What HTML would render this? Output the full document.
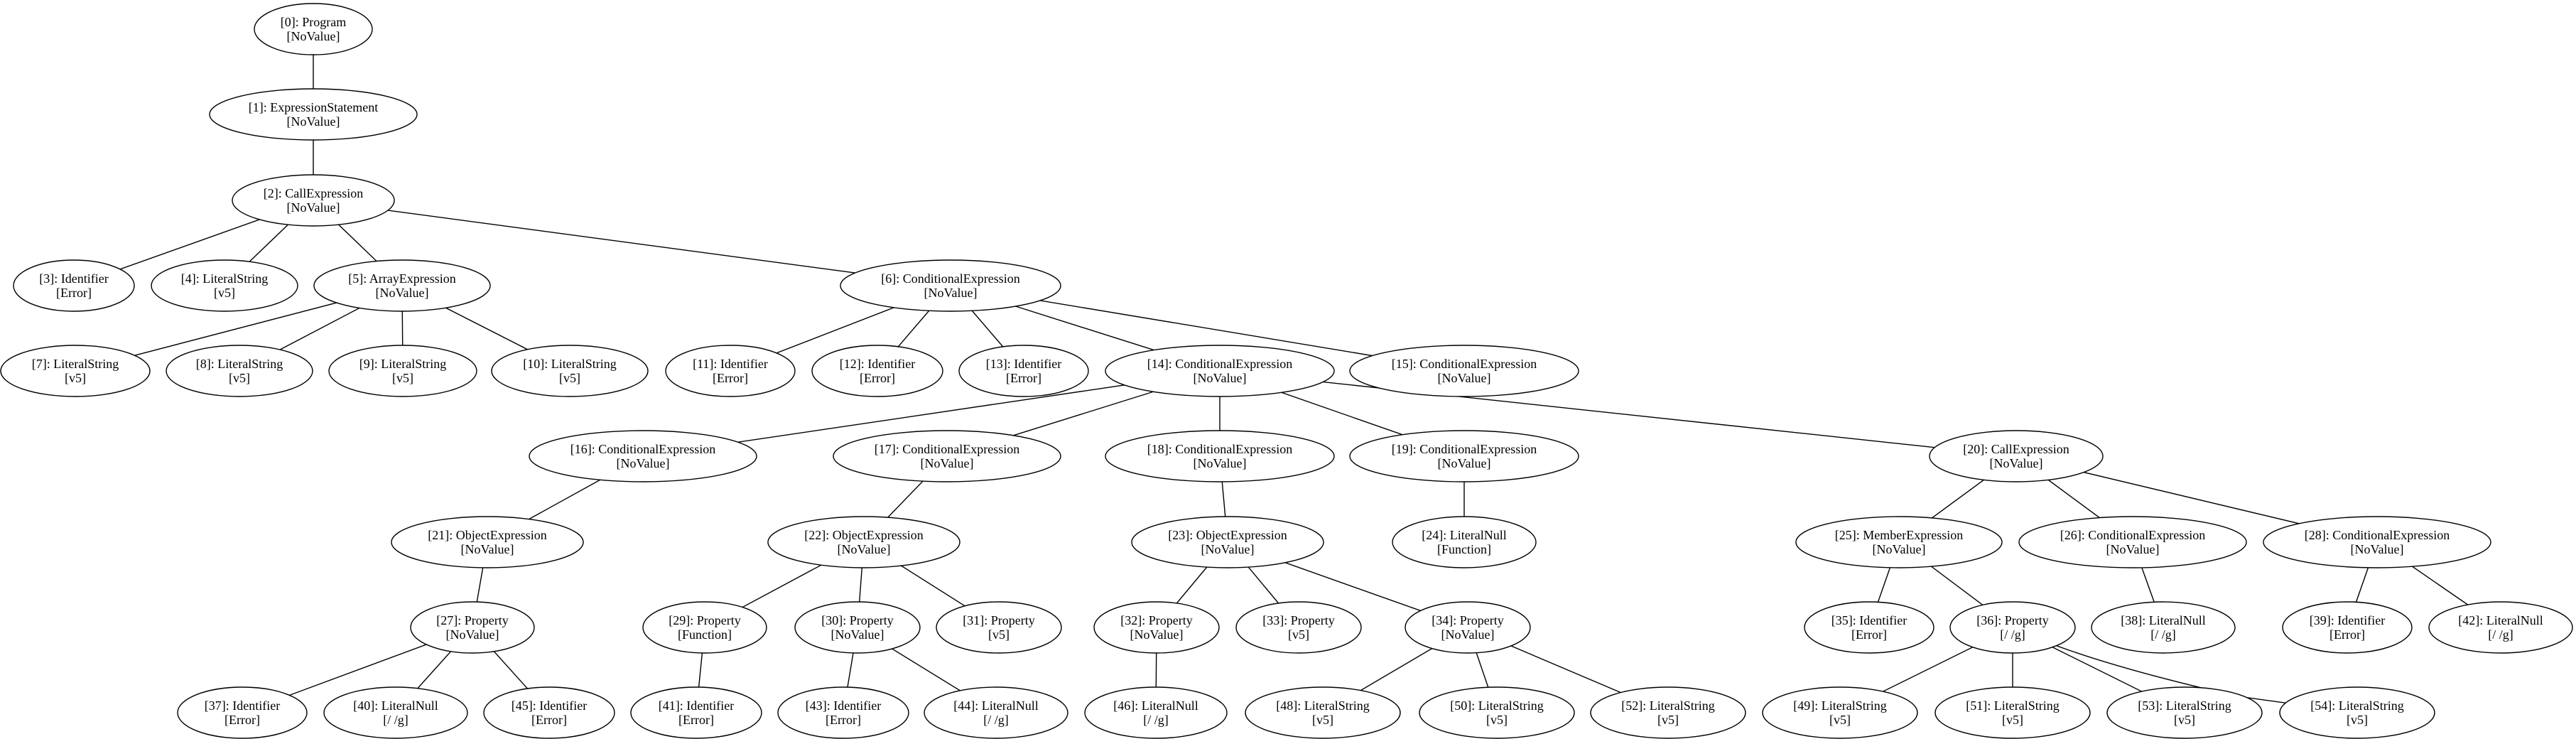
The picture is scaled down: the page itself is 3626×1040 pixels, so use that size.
<!DOCTYPE html>
<html><head><meta charset="utf-8"><style>
html,body{margin:0;padding:0;background:#fff;}
svg{display:block;}
text{font-family:"Liberation Serif","Times New Roman",serif;font-size:18px;fill:#000;text-anchor:middle;}
ellipse{fill:#fff;stroke:#000;stroke-width:1.4;}
line,path{stroke:#000;stroke-width:1.4;fill:none;}
</style></head><body>
<svg width="3626" height="1040" viewBox="0 0 3626 1040" xmlns="http://www.w3.org/2000/svg">
<g>
<line x1="441" y1="41" x2="441" y2="161"/>
<line x1="441" y1="161" x2="441" y2="282"/>
<line x1="441" y1="282" x2="104" y2="402"/>
<line x1="441" y1="282" x2="316" y2="402"/>
<line x1="441" y1="282" x2="566" y2="402"/>
<line x1="441" y1="282" x2="1338" y2="402"/>
<line x1="566" y1="402" x2="106" y2="522"/>
<line x1="566" y1="402" x2="337" y2="522"/>
<line x1="566" y1="402" x2="567" y2="522"/>
<line x1="566" y1="402" x2="802" y2="522"/>
<line x1="1338" y1="402" x2="1028" y2="522"/>
<line x1="1338" y1="402" x2="1235" y2="522"/>
<line x1="1338" y1="402" x2="1441" y2="522"/>
<line x1="1338" y1="402" x2="1717" y2="522"/>
<line x1="1338" y1="402" x2="2061" y2="522"/>
<line x1="1717" y1="522" x2="905" y2="642"/>
<line x1="1717" y1="522" x2="1333" y2="642"/>
<line x1="1717" y1="522" x2="1717" y2="642"/>
<line x1="1717" y1="522" x2="2061" y2="642"/>
<line x1="1717" y1="522" x2="2838" y2="642"/>
<line x1="905" y1="642" x2="686" y2="763"/>
<line x1="1333" y1="642" x2="1216" y2="763"/>
<line x1="1717" y1="642" x2="1728" y2="763"/>
<line x1="2061" y1="642" x2="2061" y2="763"/>
<line x1="2838" y1="642" x2="2673" y2="763"/>
<line x1="2838" y1="642" x2="3002" y2="763"/>
<line x1="2838" y1="642" x2="3346" y2="763"/>
<line x1="686" y1="763" x2="665" y2="883"/>
<line x1="1216" y1="763" x2="992" y2="883"/>
<line x1="1216" y1="763" x2="1207" y2="883"/>
<line x1="1216" y1="763" x2="1406" y2="883"/>
<line x1="1728" y1="763" x2="1628" y2="883"/>
<line x1="1728" y1="763" x2="1828" y2="883"/>
<line x1="1728" y1="763" x2="2066" y2="883"/>
<line x1="2673" y1="763" x2="2631" y2="883"/>
<line x1="2673" y1="763" x2="2833" y2="883"/>
<line x1="3002" y1="763" x2="3045" y2="883"/>
<line x1="3346" y1="763" x2="3304" y2="883"/>
<line x1="3346" y1="763" x2="3520" y2="883"/>
<line x1="665" y1="883" x2="341" y2="1003"/>
<line x1="665" y1="883" x2="557" y2="1003"/>
<line x1="665" y1="883" x2="773" y2="1003"/>
<line x1="992" y1="883" x2="980" y2="1003"/>
<line x1="1207" y1="883" x2="1187" y2="1003"/>
<line x1="1207" y1="883" x2="1402" y2="1003"/>
<line x1="1628" y1="883" x2="1627" y2="1003"/>
<line x1="2066" y1="883" x2="1862" y2="1003"/>
<line x1="2066" y1="883" x2="2107" y2="1003"/>
<line x1="2066" y1="883" x2="2348" y2="1003"/>
<line x1="2833" y1="883" x2="2590" y2="1003"/>
<line x1="2833" y1="883" x2="2833" y2="1003"/>
<line x1="2833" y1="883" x2="3075" y2="1003"/>
<path d="M2833,883 Q2930,930 3150,980 L3318,1003"/>
</g>
<g>
<ellipse cx="441" cy="41" rx="83" ry="36"/><text x="441" y="37">[0]: Program</text><text x="441" y="57">[NoValue]</text>
<ellipse cx="441" cy="161" rx="146" ry="36"/><text x="441" y="157">[1]: ExpressionStatement</text><text x="441" y="177">[NoValue]</text>
<ellipse cx="441" cy="282" rx="114" ry="36"/><text x="441" y="278">[2]: CallExpression</text><text x="441" y="298">[NoValue]</text>

<ellipse cx="104" cy="402" rx="85" ry="36"/><text x="104" y="398">[3]: Identifier</text><text x="104" y="418">[Error]</text>
<ellipse cx="316" cy="402" rx="103" ry="36"/><text x="316" y="398">[4]: LiteralString</text><text x="316" y="418">[v5]</text>
<ellipse cx="566" cy="402" rx="124" ry="36"/><text x="566" y="398">[5]: ArrayExpression</text><text x="566" y="418">[NoValue]</text>
<ellipse cx="1338" cy="402" rx="155" ry="36"/><text x="1338" y="398">[6]: ConditionalExpression</text><text x="1338" y="418">[NoValue]</text>

<ellipse cx="106" cy="522" rx="105" ry="36"/><text x="106" y="518">[7]: LiteralString</text><text x="106" y="538">[v5]</text>
<ellipse cx="337" cy="522" rx="103" ry="36"/><text x="337" y="518">[8]: LiteralString</text><text x="337" y="538">[v5]</text>
<ellipse cx="567" cy="522" rx="104" ry="36"/><text x="567" y="518">[9]: LiteralString</text><text x="567" y="538">[v5]</text>
<ellipse cx="802" cy="522" rx="110" ry="36"/><text x="802" y="518">[10]: LiteralString</text><text x="802" y="538">[v5]</text>
<ellipse cx="1028" cy="522" rx="91" ry="36"/><text x="1028" y="518">[11]: Identifier</text><text x="1028" y="538">[Error]</text>
<ellipse cx="1235" cy="522" rx="92" ry="36"/><text x="1235" y="518">[12]: Identifier</text><text x="1235" y="538">[Error]</text>
<ellipse cx="1441" cy="522" rx="91" ry="36"/><text x="1441" y="518">[13]: Identifier</text><text x="1441" y="538">[Error]</text>
<ellipse cx="1717" cy="522" rx="161" ry="36"/><text x="1717" y="518">[14]: ConditionalExpression</text><text x="1717" y="538">[NoValue]</text>
<ellipse cx="2061" cy="522" rx="161" ry="36"/><text x="2061" y="518">[15]: ConditionalExpression</text><text x="2061" y="538">[NoValue]</text>

<ellipse cx="905" cy="642" rx="160" ry="36"/><text x="905" y="638">[16]: ConditionalExpression</text><text x="905" y="658">[NoValue]</text>
<ellipse cx="1333" cy="642" rx="160" ry="36"/><text x="1333" y="638">[17]: ConditionalExpression</text><text x="1333" y="658">[NoValue]</text>
<ellipse cx="1717" cy="642" rx="161" ry="36"/><text x="1717" y="638">[18]: ConditionalExpression</text><text x="1717" y="658">[NoValue]</text>
<ellipse cx="2061" cy="642" rx="161" ry="36"/><text x="2061" y="638">[19]: ConditionalExpression</text><text x="2061" y="658">[NoValue]</text>
<ellipse cx="2838" cy="642" rx="122" ry="36"/><text x="2838" y="638">[20]: CallExpression</text><text x="2838" y="658">[NoValue]</text>

<ellipse cx="686" cy="763" rx="135" ry="36"/><text x="686" y="759">[21]: ObjectExpression</text><text x="686" y="779">[NoValue]</text>
<ellipse cx="1216" cy="763" rx="135" ry="36"/><text x="1216" y="759">[22]: ObjectExpression</text><text x="1216" y="779">[NoValue]</text>
<ellipse cx="1728" cy="763" rx="135" ry="36"/><text x="1728" y="759">[23]: ObjectExpression</text><text x="1728" y="779">[NoValue]</text>
<ellipse cx="2061" cy="763" rx="101" ry="36"/><text x="2061" y="759">[24]: LiteralNull</text><text x="2061" y="779">[Function]</text>
<ellipse cx="2673" cy="763" rx="145" ry="36"/><text x="2673" y="759">[25]: MemberExpression</text><text x="2673" y="779">[NoValue]</text>
<ellipse cx="3002" cy="763" rx="160" ry="36"/><text x="3002" y="759">[26]: ConditionalExpression</text><text x="3002" y="779">[NoValue]</text>
<ellipse cx="3346" cy="763" rx="160" ry="36"/><text x="3346" y="759">[28]: ConditionalExpression</text><text x="3346" y="779">[NoValue]</text>

<ellipse cx="665" cy="883" rx="87" ry="36"/><text x="665" y="879">[27]: Property</text><text x="665" y="899">[NoValue]</text>
<ellipse cx="992" cy="883" rx="87" ry="36"/><text x="992" y="879">[29]: Property</text><text x="992" y="899">[Function]</text>
<ellipse cx="1207" cy="883" rx="88" ry="36"/><text x="1207" y="879">[30]: Property</text><text x="1207" y="899">[NoValue]</text>
<ellipse cx="1406" cy="883" rx="88" ry="36"/><text x="1406" y="879">[31]: Property</text><text x="1406" y="899">[v5]</text>
<ellipse cx="1628" cy="883" rx="88" ry="36"/><text x="1628" y="879">[32]: Property</text><text x="1628" y="899">[NoValue]</text>
<ellipse cx="1828" cy="883" rx="88" ry="36"/><text x="1828" y="879">[33]: Property</text><text x="1828" y="899">[v5]</text>
<ellipse cx="2066" cy="883" rx="88" ry="36"/><text x="2066" y="879">[34]: Property</text><text x="2066" y="899">[NoValue]</text>
<ellipse cx="2631" cy="883" rx="91" ry="36"/><text x="2631" y="879">[35]: Identifier</text><text x="2631" y="899">[Error]</text>
<ellipse cx="2833" cy="883" rx="88" ry="36"/><text x="2833" y="879">[36]: Property</text><text x="2833" y="899">[/ /g]</text>
<ellipse cx="3045" cy="883" rx="101" ry="36"/><text x="3045" y="879">[38]: LiteralNull</text><text x="3045" y="899">[/ /g]</text>
<ellipse cx="3304" cy="883" rx="91" ry="36"/><text x="3304" y="879">[39]: Identifier</text><text x="3304" y="899">[Error]</text>
<ellipse cx="3520" cy="883" rx="101" ry="36"/><text x="3520" y="879">[42]: LiteralNull</text><text x="3520" y="899">[/ /g]</text>

<ellipse cx="341" cy="1003" rx="91" ry="36"/><text x="341" y="999">[37]: Identifier</text><text x="341" y="1019">[Error]</text>
<ellipse cx="557" cy="1003" rx="101" ry="36"/><text x="557" y="999">[40]: LiteralNull</text><text x="557" y="1019">[/ /g]</text>
<ellipse cx="773" cy="1003" rx="92" ry="36"/><text x="773" y="999">[45]: Identifier</text><text x="773" y="1019">[Error]</text>
<ellipse cx="980" cy="1003" rx="92" ry="36"/><text x="980" y="999">[41]: Identifier</text><text x="980" y="1019">[Error]</text>
<ellipse cx="1187" cy="1003" rx="92" ry="36"/><text x="1187" y="999">[43]: Identifier</text><text x="1187" y="1019">[Error]</text>
<ellipse cx="1402" cy="1003" rx="101" ry="36"/><text x="1402" y="999">[44]: LiteralNull</text><text x="1402" y="1019">[/ /g]</text>
<ellipse cx="1627" cy="1003" rx="100" ry="36"/><text x="1627" y="999">[46]: LiteralNull</text><text x="1627" y="1019">[/ /g]</text>
<ellipse cx="1862" cy="1003" rx="109" ry="36"/><text x="1862" y="999">[48]: LiteralString</text><text x="1862" y="1019">[v5]</text>
<ellipse cx="2107" cy="1003" rx="109" ry="36"/><text x="2107" y="999">[50]: LiteralString</text><text x="2107" y="1019">[v5]</text>
<ellipse cx="2348" cy="1003" rx="109" ry="36"/><text x="2348" y="999">[52]: LiteralString</text><text x="2348" y="1019">[v5]</text>
<ellipse cx="2590" cy="1003" rx="109" ry="36"/><text x="2590" y="999">[49]: LiteralString</text><text x="2590" y="1019">[v5]</text>
<ellipse cx="2833" cy="1003" rx="109" ry="36"/><text x="2833" y="999">[51]: LiteralString</text><text x="2833" y="1019">[v5]</text>
<ellipse cx="3075" cy="1003" rx="109" ry="36"/><text x="3075" y="999">[53]: LiteralString</text><text x="3075" y="1019">[v5]</text>
<ellipse cx="3318" cy="1003" rx="109" ry="36"/><text x="3318" y="999">[54]: LiteralString</text><text x="3318" y="1019">[v5]</text>
</g>
</svg>
</body></html>
